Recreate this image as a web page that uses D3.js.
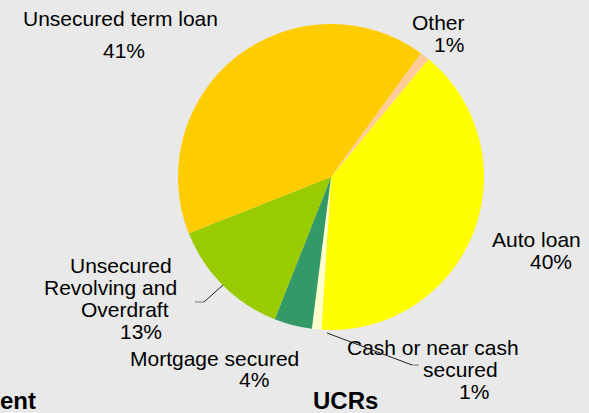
<!DOCTYPE html>
<html>
<head>
<meta charset="utf-8">
<script src="https://cdn.jsdelivr.net/npm/d3@7/dist/d3.min.js"></script>
<style>
  html, body { margin: 0; padding: 0; background: #e9e9e9; }
  svg { display: block; }
  text { font-family: "Liberation Sans", Arial, sans-serif; fill: #000; }
</style>
</head>
<body>
<script>
// Loan type shares (percent), clockwise from the "Auto loan" slice
const categories = ["Auto loan", "Cash or near cash secured", "Mortgage secured",
  "Unsecured Revolving and Overdraft", "Unsecured term loan", "Other"];
const shares = [40, 1, 4, 13, 41, 1];
const colors = ["#ffff00", "#ffffcc", "#339966", "#99cc00", "#ffcc00", "#ffcc99"];

// Line breaks used by each data label
const labelLines = [
  ["Auto loan"],
  ["Cash or near cash", "secured"],
  ["Mortgage secured"],
  ["Unsecured", "Revolving and", "Overdraft"],
  ["Unsecured term loan"],
  ["Other"]
];

const W = 589, H = 413;
const cx = 331, cy = 177, R = 153;

const svg = d3.select("body").append("svg").attr("width", W).attr("height", H);
svg.append("rect").attr("width", W).attr("height", H).attr("fill", "#e9e9e9");

const start = 39.6 * Math.PI / 180;
const pie = d3.pie().sort(null).value(d => d)
  .startAngle(start).endAngle(start + 2 * Math.PI);
const arc = d3.arc().innerRadius(0).outerRadius(R);
const arcs = pie(shares);

const g = svg.append("g").attr("transform", `translate(${cx},${cy})`);
g.selectAll("path").data(arcs).join("path")
  .attr("d", arc)
  .attr("fill", (d, i) => colors[i]);

// Label placement: one entry per line (x, baseline y, anchor); last line is the percent
const labelPos = [
  [[492, 247, "start"], [530, 269, "start"]],
  [[347, 355, "start"], [423, 377, "start"], [459, 399, "start"]],
  [[130, 366, "start"], [239, 387, "start"]],
  [[70, 273, "start"], [44, 295, "start"], [81, 317, "start"], [120, 339, "start"]],
  [[23, 26, "start"], [103, 58, "start"]],
  [[412, 30, "start"], [434, 52, "start"]]
];

const labels = svg.append("g").style("font-size", "21px");
shares.forEach((v, i) => {
  const lines = labelLines[i].concat([v + "%"]);
  lines.forEach((t, j) => {
    const p = labelPos[i][j];
    labels.append("text")
      .attr("x", p[0]).attr("y", p[1])
      .attr("text-anchor", p[2])
      .text(t);
  });
});

// Leader lines for the two labels set away from their slices
const leaders = svg.append("g").attr("fill", "none").attr("stroke-width", 1);
leaders.append("path").attr("d", "M223,285 L204,302").attr("stroke", "#222");
leaders.append("path").attr("d", "M204,302 L195,302").attr("stroke", "#777");
leaders.append("path").attr("d", "M327,333 L412,365").attr("stroke", "#222");
leaders.append("path").attr("d", "M412,365 L419,365").attr("stroke", "#777");

// Chart titles along the bottom edge
svg.append("text").attr("x", 313).attr("y", 409)
  .style("font-size", "24px").style("font-weight", "bold").text("UCRs");
svg.append("text").attr("x", 0).attr("y", 409)
  .style("font-size", "24px").style("font-weight", "bold").text("ent");
</script>
</body>
</html>
